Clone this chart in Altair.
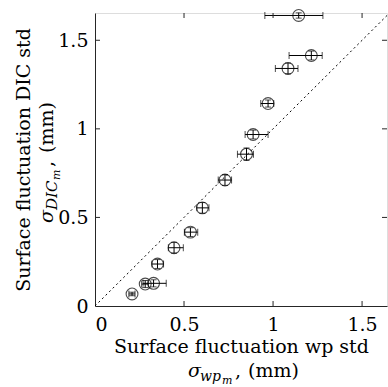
import altair as alt
import pandas as pd

# ---- data ----
wp_std = [1.144, 1.215, 1.084, 0.972, 0.888, 0.851, 0.730, 0.603, 0.536, 0.444, 0.351, 0.329, 0.282, 0.208]
dic_std = [1.640, 1.414, 1.341, 1.143, 0.968, 0.857, 0.711, 0.554, 0.417, 0.329, 0.237, 0.128, 0.124, 0.068]
wp_lo = [0.954, 1.090, 1.013, 0.931, 0.843, 0.800, 0.692, 0.572, 0.502, 0.412, 0.320, 0.270, 0.262, 0.190]
wp_hi = [1.280, 1.276, 1.140, 1.004, 0.972, 0.890, 0.767, 0.640, 0.577, 0.496, 0.385, 0.400, 0.300, 0.225]
dic_err = [0.015, 0.025, 0.03, 0.02, 0.025, 0.035, 0.03, 0.03, 0.025, 0.03, 0.025, 0.02, 0.02, 0.01]

ref_line = [0.0, 1.7]
tick_vals = [0.5, 1.0, 1.5]
axis_vals = [0, 0.5, 1, 1.5]

x_title = "Surface fluctuation wp std"
y_title = "Surface fluctuation DIC std"

FONT = "DejaVu Serif"
FS = 19
INK = "#000000"
FRAME = "#262626"
W, H = 292, 293
XMAX, YMAX = 1.64, 1.654

df = pd.DataFrame({
    "x": wp_std, "y": dic_std, "xlo": wp_lo, "xhi": wp_hi,
    "ylo": [a - b for a, b in zip(dic_std, dic_err)],
    "yhi": [a + b for a, b in zip(dic_std, dic_err)],
})

xs = alt.Scale(domain=[0, XMAX], nice=False, zero=False)
ys = alt.Scale(domain=[0, YMAX], nice=False, zero=False)

x_axis = alt.Axis(values=axis_vals, format="~g", ticks=False, grid=False,
                  labelFont=FONT, labelFontSize=FS, labelColor=INK, labelPadding=9,
                  domainColor=FRAME, title=x_title, titleFont=FONT, titleFontSize=FS,
                  titleFontWeight="normal", titleColor=INK, titleBaseline="top",
                  titleY=31, titleX=W / 2, titleAlign="center")
y_axis = alt.Axis(values=axis_vals, format="~g", ticks=False, grid=False,
                  labelFont=FONT, labelFontSize=FS, labelColor=INK, labelPadding=7,
                  domainColor=FRAME, title=y_title, titleFont=FONT, titleFontSize=FS,
                  titleFontWeight="normal", titleColor=INK, titleBaseline="alphabetic",
                  titleX=-66, titleY=H / 2, titleAlign="center", titleAngle=270)

base = alt.Chart(df)

line_df = pd.DataFrame({"x": ref_line, "y": ref_line})
ref = alt.Chart(line_df).mark_line(color=INK, strokeDash=[2, 3], strokeWidth=1, clip=True).encode(
    x=alt.X("x:Q", scale=xs, axis=x_axis), y=alt.Y("y:Q", scale=ys, axis=y_axis))

hbar = base.mark_rule(color=INK, strokeWidth=1).encode(
    x=alt.X("xlo:Q", scale=xs), x2="xhi:Q", y=alt.Y("y:Q", scale=ys))
vbar = base.mark_rule(color=INK, strokeWidth=1).encode(
    x=alt.X("x:Q", scale=xs), y=alt.Y("ylo:Q", scale=ys), y2="yhi:Q")
cap_l = base.mark_tick(orient="vertical", color=INK, size=7, thickness=1).encode(
    x=alt.X("xlo:Q", scale=xs), y=alt.Y("y:Q", scale=ys))
cap_r = base.mark_tick(orient="vertical", color=INK, size=7, thickness=1).encode(
    x=alt.X("xhi:Q", scale=xs), y=alt.Y("y:Q", scale=ys))
cap_b = base.mark_tick(orient="horizontal", color=INK, size=6, thickness=1).encode(
    x=alt.X("x:Q", scale=xs), y=alt.Y("ylo:Q", scale=ys))
cap_t = base.mark_tick(orient="horizontal", color=INK, size=6, thickness=1).encode(
    x=alt.X("x:Q", scale=xs), y=alt.Y("yhi:Q", scale=ys))
pts = base.mark_point(shape="circle", filled=False, size=140, color=INK, strokeWidth=1.1).encode(
    x=alt.X("x:Q", scale=xs), y=alt.Y("y:Q", scale=ys))

tick_df = pd.DataFrame({"v": tick_vals})
tb = alt.Chart(tick_df).mark_rule(color=FRAME).encode(
    x=alt.X("v:Q", scale=xs), y=alt.value(H), y2=alt.value(H - 5))
tt = alt.Chart(tick_df).mark_rule(color=FRAME).encode(
    x=alt.X("v:Q", scale=xs), y=alt.value(0), y2=alt.value(5))
tl = alt.Chart(tick_df).mark_rule(color=FRAME).encode(
    y=alt.Y("v:Q", scale=ys), x=alt.value(0), x2=alt.value(5))
tr = alt.Chart(tick_df).mark_rule(color=FRAME).encode(
    y=alt.Y("v:Q", scale=ys), x=alt.value(W), x2=alt.value(W - 5))

# second title lines: sigma with subscripts (pieces)
def piece(txt, x, y, size, italic=True, angle=0):
    return alt.Chart(pd.DataFrame({"t": [txt]})).mark_text(
        font=FONT, fontSize=size, fontStyle="italic" if italic else "normal",
        align="left", baseline="alphabetic", angle=angle, color=INK).encode(
        text="t:N", x=alt.value(x), y=alt.value(y))

x_sub = [
    piece("σ", 93, 364, FS),
    piece("wp", 105, 368, 14),
    piece("m", 127, 371, 11),
    piece(",", 140, 364, FS, italic=False),
    piece("(mm)", 153, 364, FS, italic=False),
]
y_sub = [
    piece("σ", -42, 210, FS, angle=270),
    piece("DIC", -38, 197, 15, angle=270),
    piece("m", -35, 167, 11, angle=270),
    piece(",", -42, 154, FS, italic=False, angle=270),
    piece("(mm)", -42, 140, FS, italic=False, angle=270),
]

chart = alt.layer(ref, hbar, vbar, cap_l, cap_r, cap_b, cap_t, pts, tb, tt, tl, tr,
                  *x_sub, *y_sub).properties(
    width=W, height=H,
    autosize=alt.AutoSizeParams(type="none"),
    padding={"left": 95, "top": 13, "right": 1, "bottom": 81},
).configure_view(stroke=FRAME, strokeWidth=1).configure(background="white")

chart.save("out.html", embed_options={"renderer": "svg", "actions": False})
